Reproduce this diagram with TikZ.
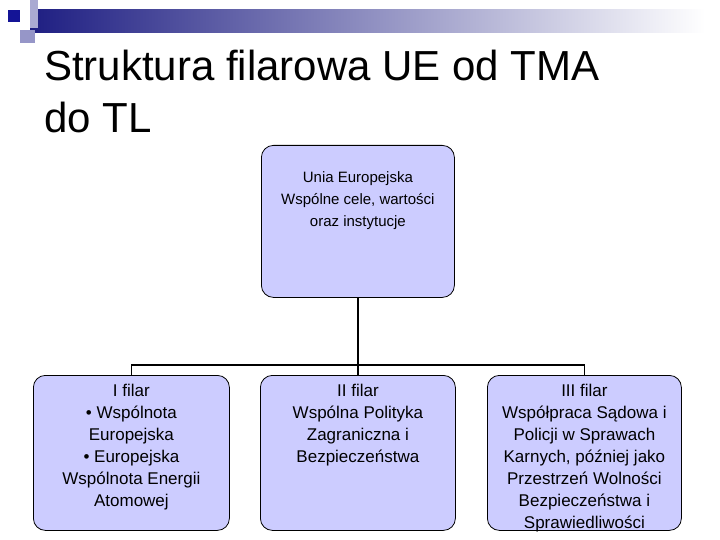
\documentclass[tikz,border=0pt]{standalone}
\usepackage{fontspec}
\setmainfont{Liberation Sans}
\definecolor{lav}{RGB}{204,204,255}
\definecolor{dbar}{RGB}{30,30,130}
\definecolor{sq1}{RGB}{170,170,210}
\definecolor{sq2}{RGB}{150,150,200}
\definecolor{sq3}{RGB}{20,20,150}
\begin{document}
\begin{tikzpicture}[x=1pt,y=-1pt,
 box/.style={draw=black,line width=0.8pt,fill=lav,rounded corners=12pt,align=center,anchor=north west,inner sep=0pt},
 conn/.style={line width=1.5pt}]
\useasboundingbox (0,0) rectangle (720,540);
\shade[left color=dbar,right color=white] (30,10) rectangle (705,33);
\fill[sq1] (30,0) rectangle (38,28);
\fill[sq2] (20,30) rectangle (35,43);
\fill[sq3] (8,10) rectangle (20,22);
\node[anchor=north west,align=left,font=\fontsize{42}{52}\selectfont,inner sep=0pt] (title) at (44,50) {Struktura filarowa UE od TMA\\do TL};
\node[box,minimum width=193pt,minimum height=152pt] (ue) at (261,145) {};
\node[anchor=north,align=center,font=\fontsize{15}{22}\selectfont,inner sep=0pt] (uet) at ([yshift=-26]ue.north) {Unia Europejska\\Wspólne cele, wartości\\oraz instytucje};
\node[box,minimum width=196pt,minimum height=155pt] (p1) at (33,375) {};
\node[box,minimum width=195pt,minimum height=155pt] (p2) at (260,375) {};
\node[box,minimum width=194pt,minimum height=155pt] (p3) at (487,375) {};
\node[anchor=north,align=center,font=\fontsize{17}{22}\selectfont,inner sep=0pt] (t1) at ([yshift=-9]p1.north) {I filar\\• Wspólnota\\Europejska\\• Europejska\\Wspólnota Energii\\Atomowej};
\node[anchor=north,align=center,font=\fontsize{17}{22}\selectfont,inner sep=0pt] (t2) at ([yshift=-9]p2.north) {II filar\\Wspólna Polityka\\Zagraniczna i\\Bezpieczeństwa};
\node[anchor=north,align=center,font=\fontsize{17}{22}\selectfont,inner sep=0pt] (t3) at ([yshift=-9]p3.north) {III filar\\Współpraca Sądowa i\\Policji w Sprawach\\Karnych, później jako\\Przestrzeń Wolności\\Bezpieczeństwa i\\Sprawiedliwości};
\coordinate (j) at (ue.south |- 0,365);
\draw[conn] (ue.south) -- (j);
\draw[conn] (p1.north) |- (j) -| (p3.north);
\draw[conn] (j) -- (p2.north);
\end{tikzpicture}
\end{document}
